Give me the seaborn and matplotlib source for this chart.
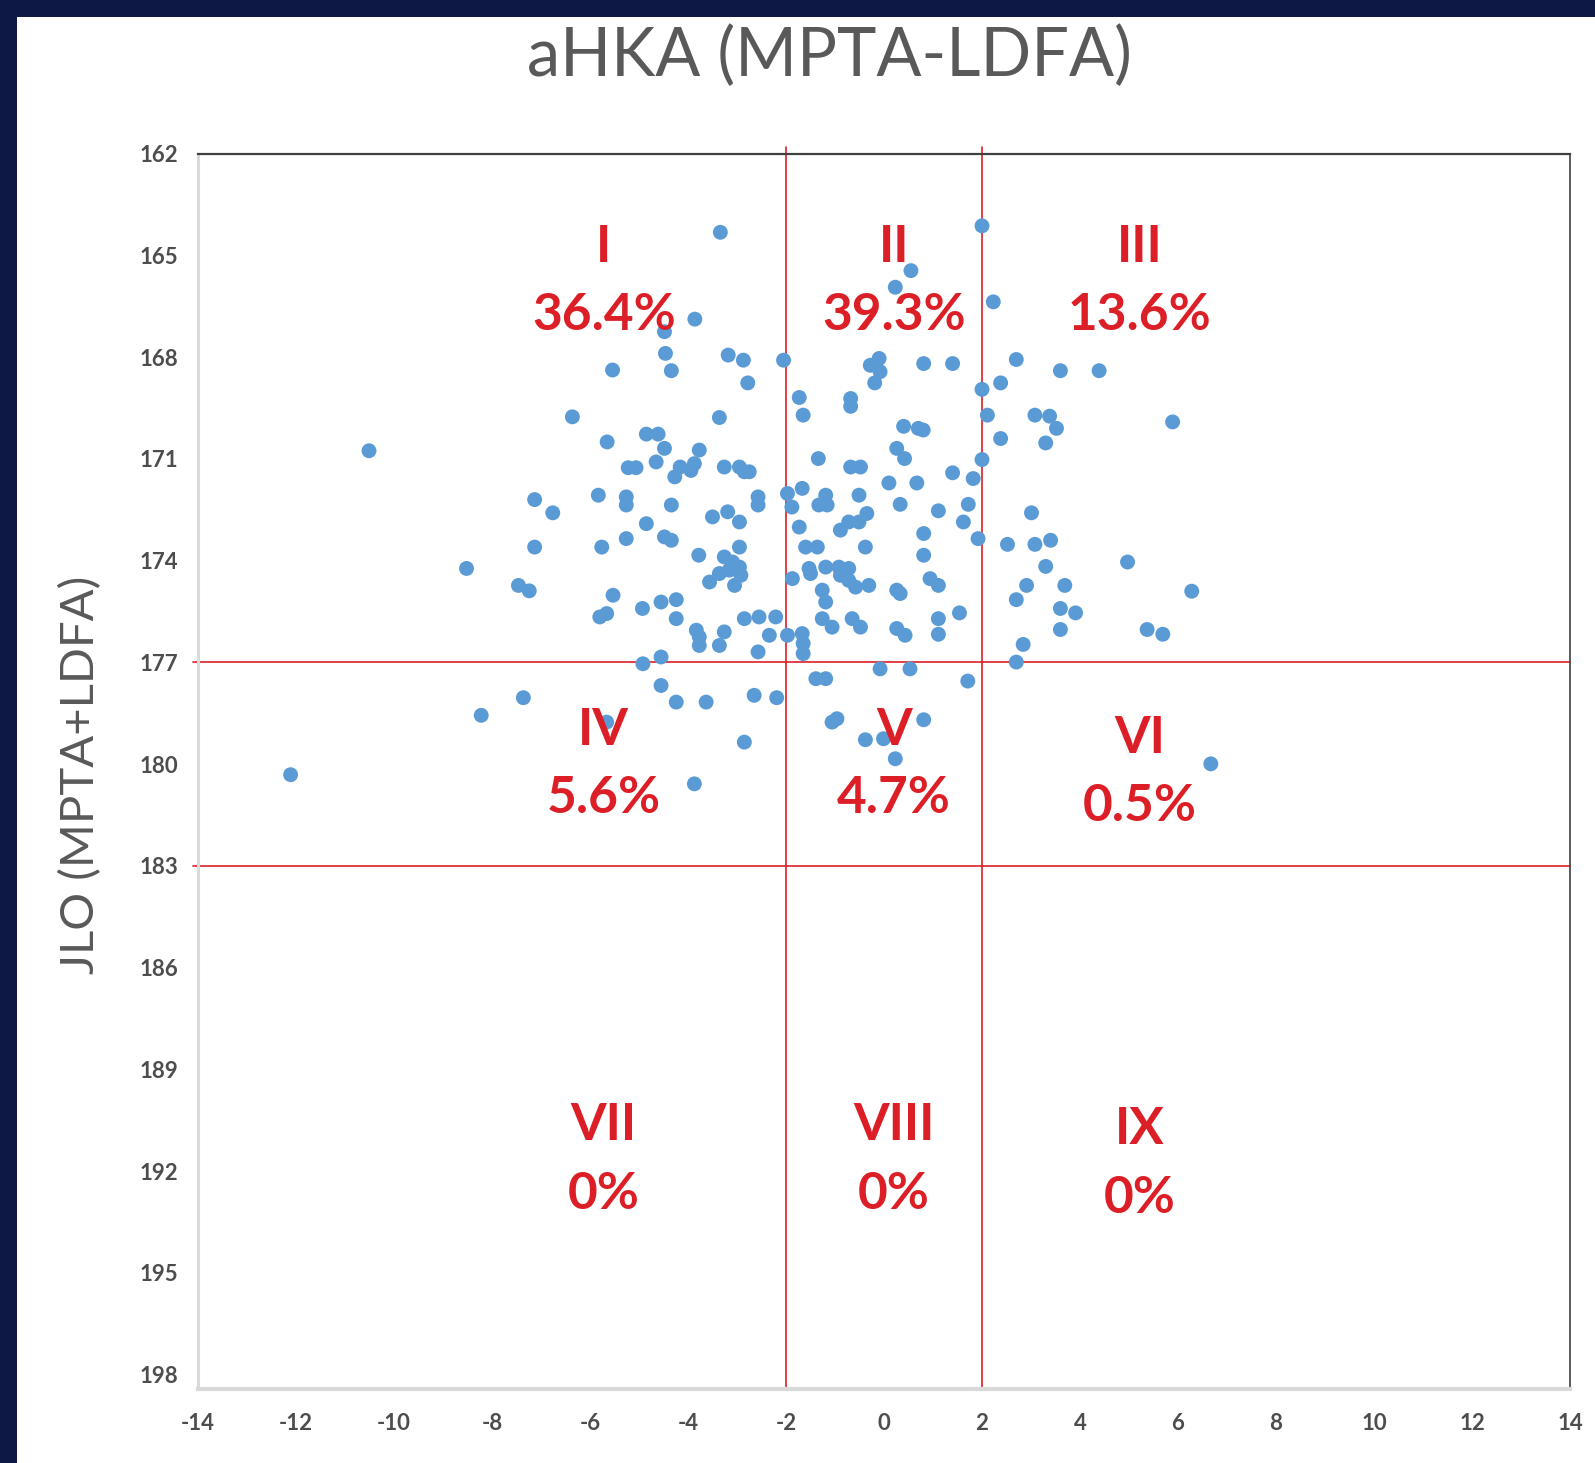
import matplotlib
matplotlib.use("Agg")
import matplotlib.pyplot as plt
import seaborn as sns
import pandas as pd
from matplotlib.patches import Rectangle

# aHKA (MPTA - LDFA) of each knee
ahka = [
    -10.51, -6.36,
    -3.34, 0.55, 0.23, -3.86, -4.48, -4.46, -4.34, -5.54, -3.18, -2.87, -2.05, -2.78,
    -0.10, -0.28, -0.08, -0.19, 0.81,
    -1.73, -1.65, -0.68, -0.68, -3.36, 0.40, 0.70, 0.80,
    -5.65, -4.85, -4.61, -4.48, -3.77, -4.65, -5.22, -5.06,
    -4.16, -4.27, -3.94, -3.87, -3.26, -2.95, -2.85, -2.75,
    -1.34, -0.68, -0.48, 0.10, 0.67, 0.26, 0.42,
    -5.26, -5.26, -5.83, -2.57, -2.57, -1.97, -1.88, -1.67, -1.19, -1.33, -1.16, -0.51, -4.34,
    -3.50, -3.19, -2.95, -1.73, 0.33, -0.35, -0.51, -0.72, -0.89,
    -4.85, -5.76, -5.26, -4.48, -4.34, -3.78, -2.95,
    -3.26, -3.09, -2.95, -3.16, -3.36, -3.56, -3.05, -2.92,
    -1.60, -1.36, -0.38, -1.53, -1.50,
    -1.19, -0.92, -0.72, -0.89, -0.72, -0.58, -0.31,
    -1.87, 0.26, 0.33, 0.81, 0.81,
    -1.26, -1.19, -5.53, -5.80, -5.66, -4.93, -4.55, -4.24, -4.24,
    -2.85, -2.55, -2.21, -1.26, -1.06, -0.65, -0.48, 0.26, 0.43,
    -3.83, -3.77, -3.77, -3.26, -3.36, -2.34, -1.97, -1.67, -1.65, -1.65, -2.57,
    -4.92, -4.55, -0.08, 0.53, -1.39, -1.19, -4.55, -4.24, -3.63, -2.65, -2.19,
    -1.06, -0.96, -2.85, -0.38, -0.01, 0.23, -3.87, -5.66, 0.81,
    1.11, 1.72, 1.62, 1.92, 0.94, 1.11, 1.11, 1.11, 1.54, 1.71,
    3.01, 2.52, 3.08, 3.40, 3.30, 2.91, 2.70, 3.69, 3.60, 3.91, 3.60, 2.84, 2.70,
    4.97, 6.28, 5.37, 5.69, 6.67,
    2.00, 2.23, 1.40, 2.70, 3.60, 4.39, 2.00, 2.38, 2.11, 3.08, 3.38, 3.52,
    2.38, 3.30, 5.89, 2.00, 1.40, 1.82,
    -7.13, -6.76, -7.13, -8.52, -7.46, -7.24, -7.36, -8.22, -12.11,
]

# JLO (MPTA + LDFA) of each knee
jlo = [
    170.76, 169.76,
    164.32, 165.45, 165.94, 166.88, 167.25, 167.89, 168.40, 168.38, 167.94, 168.09, 168.09, 168.76,
    168.04, 168.24, 168.43, 168.76, 168.19,
    169.19, 169.71, 169.22, 169.45, 169.78, 170.04, 170.10, 170.15,
    170.50, 170.27, 170.27, 170.69, 170.74, 171.09, 171.26, 171.26,
    171.24, 171.53, 171.34, 171.14, 171.24, 171.24, 171.38, 171.38,
    170.99, 171.24, 171.24, 171.71, 171.71, 170.69, 170.99,
    172.12, 172.36, 172.07, 172.12, 172.36, 172.02, 172.42, 171.87, 172.07, 172.36, 172.36, 172.07, 172.36,
    172.71, 172.56, 172.86, 173.01, 172.34, 172.61, 172.86, 172.86, 173.10,
    172.91, 173.60, 173.35, 173.30, 173.40, 173.84, 173.60,
    173.89, 174.04, 174.19, 174.28, 174.38, 174.63, 174.73, 174.43,
    173.60, 173.60, 173.60, 174.23, 174.38,
    174.19, 174.19, 174.23, 174.43, 174.58, 174.78, 174.73,
    174.53, 174.87, 174.97, 173.20, 173.84,
    174.87, 175.22, 175.02, 175.66, 175.56, 175.41, 175.22, 175.15, 175.71,
    175.71, 175.66, 175.66, 175.71, 175.96, 175.71, 175.96, 176.00, 176.20,
    176.05, 176.25, 176.50, 176.10, 176.50, 176.20, 176.20, 176.15, 176.44, 176.74, 176.69,
    177.04, 176.84, 177.19, 177.19, 177.48, 177.48, 177.68, 178.17, 178.17, 177.97, 178.04,
    178.76, 178.66, 179.35, 179.28, 179.25, 179.84, 180.58, 178.76, 178.69,
    172.53, 172.34, 172.86, 173.35, 174.53, 174.73, 175.71, 176.17, 175.54, 177.55,
    172.59, 173.52, 173.52, 173.40, 174.17, 174.73, 175.15, 174.73, 175.41, 175.54, 176.03, 176.47, 176.99,
    174.04, 174.90, 176.03, 176.17, 179.99,
    164.13, 166.37, 168.19, 168.07, 168.40, 168.40, 168.95, 168.76, 169.71, 169.71, 169.74, 170.10,
    170.40, 170.53, 169.91, 171.02, 171.41, 171.58,
    172.20, 172.59, 173.60, 174.23, 174.73, 174.89, 178.04, 178.56, 180.31,
]

ahka_cuts = [-2, 2]
jlo_cuts = [177, 183]

zone_names = ["I", "II", "III", "IV", "V", "VI", "VII", "VIII", "IX"]
zone_shares = ["36.4%", "39.3%", "13.6%", "5.6%", "4.7%", "0.5%", "0%", "0%", "0%"]

x_ticks = list(range(-14, 15, 2))
y_ticks = list(range(162, 199, 3))

df = pd.DataFrame({"aHKA": ahka, "JLO": jlo})

sns.set_theme(style="white")
plt.rcParams["font.family"] = ["Lato", "DejaVu Sans"]

W, H = 1595, 1463
fig = plt.figure(figsize=(W / 100, H / 100), dpi=100)
fig.patch.set_facecolor("#0d1844")
# white slide area inside the dark frame
fig.patches.append(Rectangle((17 / W, 0), 1 - 17 / W, 1 - 17 / H,
                             transform=fig.transFigure, facecolor="white",
                             edgecolor="none", zorder=-5))

ax = fig.add_axes([198 / W, 1 - 1389 / H, (1570 - 198) / W, (1389 - 153.6) / H])
ax.set_facecolor("white")

sns.scatterplot(data=df, x="aHKA", y="JLO", ax=ax, s=115, color="#5b9bd5",
                edgecolor="none", linewidth=0, zorder=3, legend=False)

ax.set_xlim(-14, 14)
ax.set_ylim(198.42, 162)

red = "#dc1f26"
for xv in ahka_cuts:
    ax.plot([xv, xv], [161.8, 198.42], color=red, lw=1.2, clip_on=False, zorder=2)
for yv in jlo_cuts:
    ax.plot([-14.1, 14], [yv, yv], color=red, lw=1.2, clip_on=False, zorder=2)

# zone captions
col_x = [-5.72, 0.2, 5.22]
row_y = [(164.76, 166.77), (179.01, 181.02), (190.66, 192.68)]
row_shift = [[0, 0, 0], [0, 0, 0.24], [0, 0, 0.12]]
for i in range(3):
    for j in range(3):
        k = i * 3 + j
        y1, y2 = row_y[i]
        dy = row_shift[i][j]
        ax.text(col_x[j], y1 + dy, zone_names[k], ha="center", va="center",
                fontsize=37, fontweight="bold", color=red, zorder=4)
        ax.text(col_x[j], y2 + dy, zone_shares[k], ha="center", va="center",
                fontsize=37, fontweight="bold", color=red, zorder=4)

ax.set_xticks(x_ticks)
ax.set_yticks(y_ticks)
ax.set_xticklabels([str(v) for v in x_ticks])
ax.set_yticklabels([str(v) for v in y_ticks])
ax.tick_params(axis="both", length=0, labelsize=16, labelcolor="#4d4d4d")
for lab in ax.get_xticklabels() + ax.get_yticklabels():
    lab.set_fontweight("bold")
ax.tick_params(axis="y", pad=14)
ax.tick_params(axis="x", pad=17)
ax.set_xlabel("")
ax.set_ylabel("")
ax.grid(False)

ax.spines["top"].set_color("#404040")
ax.spines["top"].set_linewidth(1.6)
ax.spines["right"].set_color("#404040")
ax.spines["right"].set_linewidth(1.2)
ax.spines["left"].set_color("#d9d9d9")
ax.spines["left"].set_linewidth(2.2)
ax.spines["bottom"].set_color("#d9d9d9")
ax.spines["bottom"].set_linewidth(3.0)
for sp in ax.spines.values():
    sp.set_visible(True)

fig.text(829 / W, 1 - 57 / H, "aHKA (MPTA-LDFA)", ha="center", va="center",
         fontsize=48, color="#595959")
fig.text(81 / W, 1 - 775 / H, "JLO (MPTA+LDFA)", ha="center", va="center",
         rotation=90, fontsize=34, color="#595959")

fig.savefig("out.png", dpi=100, facecolor=fig.get_facecolor())
